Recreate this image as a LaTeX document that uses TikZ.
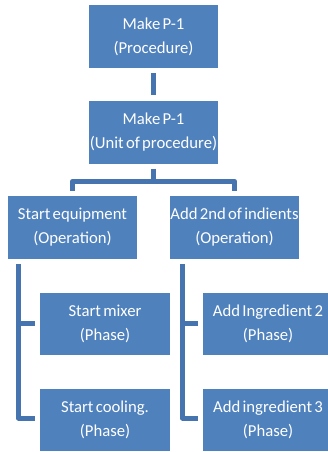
\documentclass[tikz,border=0pt]{standalone}
\usepackage{fontspec}
\setmainfont{Carlito}[WordSpace=0.6]
\definecolor{boxblue}{HTML}{4F81BD}
\definecolor{lineblue}{HTML}{4674AE}
\tikzset{
  box/.style={rectangle, fill=boxblue, text=white, inner sep=0pt,
    minimum width=129pt, minimum height=63pt, align=center,
    font=\fontsize{16.7}{24}\selectfont},
  phase/.style={box, minimum width=130pt, minimum height=62pt},
  conn/.style={draw=lineblue, line width=5pt, line join=round}
}
\begin{document}
\begin{tikzpicture}[x=1pt,y=-1pt]
\useasboundingbox (0,0) rectangle (328,452);
\clip (0,0) rectangle (328,452);
\fill[white] (0,0) rectangle (328,452);
\node[box] (b1) at (153.5,36.5) {Make P-1\\(Procedure)};
\node[box] (b2) at (153.5,132) {Make P-1\\(Unit of procedure)};
\node[box] (b3) at (72.5,227.5) {Start equipment\\(Operation)};
\node[box] (b4) at (234.5,227.5) {Add 2nd of indients\\(Operation)};
\node[phase] (b5) at (105,323.5) {Start mixer\\(Phase)};
\node[phase] (b6) at (105,419.5) {Start cooling.\\(Phase)};
\node[phase] (b7) at (268,323.5) {Add Ingredient 2\\(Phase)};
\node[phase] (b8) at (268,419.5) {Add ingredient 3\\(Phase)};
% connectors
\draw[conn] ([yshift=-5pt]b1.south) -- ([yshift=5pt]b2.north);
\draw[conn] ([yshift=-5pt]b2.south) -- ([yshift=-17.5pt]b2.south);
\draw[conn] ([yshift=5pt]b3.north) |- ([yshift=-17.5pt]b2.south) -| ([yshift=5pt]b4.north);
\draw[conn] ([xshift=-5pt]b5.west) -| ([xshift=10.5pt,yshift=-5pt]b3.south west);
\draw[conn] ([xshift=-5pt,yshift=1.5pt]b6.west) -| ([xshift=10.5pt,yshift=-5pt]b3.south west);
\draw[conn] ([xshift=-5pt]b7.west) -| ([xshift=12.5pt,yshift=-5pt]b4.south west);
\draw[conn] ([xshift=-5pt,yshift=1.5pt]b8.west) -| ([xshift=12.5pt,yshift=-5pt]b4.south west);
\end{tikzpicture}
\end{document}
